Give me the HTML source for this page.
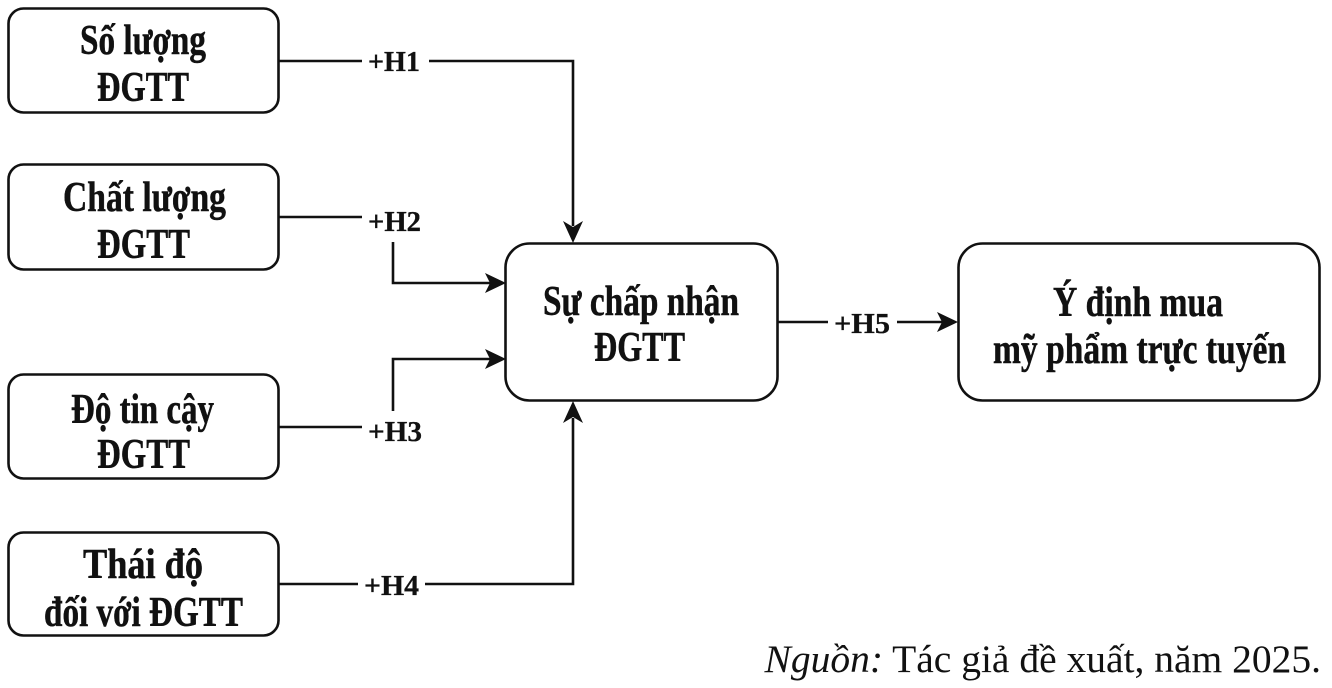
<!DOCTYPE html>
<html>
<head>
<meta charset="utf-8">
<style>
  html, body { margin: 0; padding: 0; background: #ffffff; }
  svg { display: block; }
  .bx { fill: #ffffff; stroke: #111; stroke-width: 2.6; }
  .ln { fill: none; stroke: #111; stroke-width: 2.6; }
  .ah { fill: #111; stroke: none; }
  .t { font-family: "Liberation Serif", "Times New Roman", serif; font-weight: bold; font-size: 42px; fill: #111; stroke: #111; stroke-width: 0.5; }
  .lb { font-family: "Liberation Serif", "Times New Roman", serif; font-weight: bold; font-size: 29px; fill: #111; stroke: #111; stroke-width: 0.3; }
  .cap { font-family: "Liberation Serif", "Times New Roman", serif; font-size: 39.5px; fill: #111; }
</style>
</head>
<body>
<svg width="1332" height="688" viewBox="0 0 1332 688" xmlns="http://www.w3.org/2000/svg">
  <rect x="0" y="0" width="1332" height="688" fill="#ffffff"/>

  <!-- Left boxes -->
  <rect class="bx" x="8.5" y="8.5" width="270" height="104" rx="15" ry="15"/>
  <rect class="bx" x="8.5" y="164.5" width="270" height="105" rx="15" ry="15"/>
  <rect class="bx" x="8.5" y="374.5" width="270" height="104" rx="15" ry="15"/>
  <rect class="bx" x="8.5" y="532.5" width="270" height="103" rx="15" ry="15"/>

  <!-- Center box -->
  <rect class="bx" x="505.5" y="243.5" width="272" height="157" rx="24" ry="24"/>
  <!-- Right box -->
  <rect class="bx" x="958.5" y="243.5" width="361" height="157" rx="24" ry="24"/>

  <!-- Box texts -->
  <text class="t" x="80" y="54" textLength="126" lengthAdjust="spacingAndGlyphs">Số lượng</text>
  <text class="t" x="97" y="101" textLength="92" lengthAdjust="spacingAndGlyphs">ĐGTT</text>

  <text class="t" x="63" y="211" textLength="163" lengthAdjust="spacingAndGlyphs">Chất lượng</text>
  <text class="t" x="97" y="258" textLength="93" lengthAdjust="spacingAndGlyphs">ĐGTT</text>

  <text class="t" x="71" y="423" textLength="143" lengthAdjust="spacingAndGlyphs">Độ tin cậy</text>
  <text class="t" x="97" y="468" textLength="93" lengthAdjust="spacingAndGlyphs">ĐGTT</text>

  <text class="t" x="83" y="578" textLength="120" lengthAdjust="spacingAndGlyphs">Thái độ</text>
  <text class="t" x="44" y="626" textLength="199" lengthAdjust="spacingAndGlyphs">đối với ĐGTT</text>

  <text class="t" x="543" y="315" textLength="196" lengthAdjust="spacingAndGlyphs">Sự chấp nhận</text>
  <text class="t" x="594" y="361" textLength="91" lengthAdjust="spacingAndGlyphs">ĐGTT</text>

  <text class="t" x="1053" y="316" textLength="170" lengthAdjust="spacingAndGlyphs">Ý định mua</text>
  <text class="t" x="993" y="363" textLength="293" lengthAdjust="spacingAndGlyphs">mỹ phẩm trực tuyến</text>

  <!-- H1 -->
  <path class="ln" d="M279,61 H362"/>
  <path class="ln" d="M429,61 H573 V226"/>
  <path class="ah" d="M573,243 L563,221 L573,227 L583,221 Z"/>
  <text class="lb" x="368" y="71" textLength="52" lengthAdjust="spacingAndGlyphs">+H1</text>

  <!-- H2 -->
  <path class="ln" d="M279,217 H362"/>
  <text class="lb" x="368" y="231" textLength="53" lengthAdjust="spacingAndGlyphs">+H2</text>
  <path class="ln" d="M393,242 V283 H490"/>
  <path class="ah" d="M506,283 L485,273 L490,283 L485,293 Z"/>

  <!-- H3 -->
  <path class="ln" d="M279,427 H362"/>
  <text class="lb" x="368" y="441" textLength="54" lengthAdjust="spacingAndGlyphs">+H3</text>
  <path class="ln" d="M393,411 V359 H490"/>
  <path class="ah" d="M506,359 L485,349 L490,359 L485,369 Z"/>

  <!-- H4 -->
  <path class="ln" d="M279,584 H358"/>
  <text class="lb" x="364" y="595" textLength="55" lengthAdjust="spacingAndGlyphs">+H4</text>
  <path class="ln" d="M425,584 H573 V418"/>
  <path class="ah" d="M573,401 L563,423 L573,417 L583,423 Z"/>

  <!-- H5 -->
  <path class="ln" d="M778,322 H828"/>
  <text class="lb" x="834" y="333" textLength="56" lengthAdjust="spacingAndGlyphs">+H5</text>
  <path class="ln" d="M897,322 H942"/>
  <path class="ah" d="M958,322 L937,312 L942,322 L937,332 Z"/>

  <!-- Caption -->
  <text class="cap" x="1321" y="672" text-anchor="end"><tspan font-style="italic">Nguồn:</tspan> Tác giả đề xuất, năm 2025.</text>
</svg>
</body>
</html>
